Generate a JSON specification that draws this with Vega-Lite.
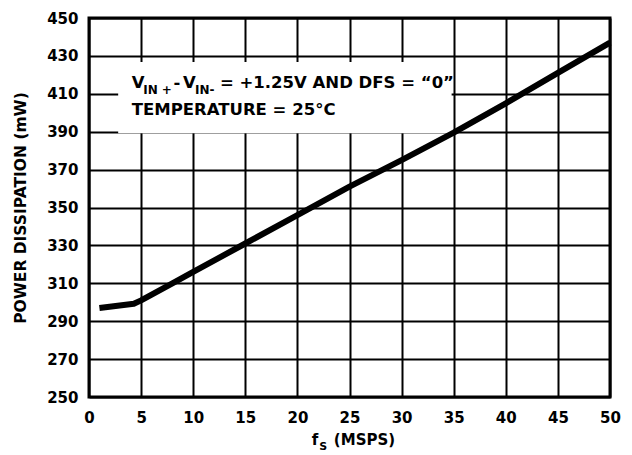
{
  "$schema": "https://vega.github.io/schema/vega-lite/v6.json",
  "width": 521,
  "height": 379,
  "autosize": {"type": "none"},
  "padding": {"left": 89, "top": 18, "right": 22, "bottom": 58},
  "background": "white",
  "config": {
    "view": {"stroke": "black", "strokeWidth": 3},
    "font": "DejaVu Sans",
    "axis": {
      "labelFont": "DejaVu Sans",
      "labelFontWeight": "bold",
      "labelFontSize": 15,
      "labelColor": "black",
      "labelOverlap": false,
      "titleFont": "DejaVu Sans",
      "titleFontWeight": "bold",
      "titleColor": "black",
      "grid": true,
      "gridColor": "black",
      "gridWidth": 2,
      "gridOpacity": 1,
      "ticks": false,
      "domain": false
    }
  },
  "layer": [
    {
      "data": {"values": [{}]},
      "layer": [
        {
          "mark": {"type": "rect", "fill": "white", "stroke": null},
          "encoding": {
            "x": {
              "datum": 2.8, "type": "quantitative",
              "scale": {"domain": [0, 50], "nice": false, "zero": false},
              "axis": {"values": [0, 5, 10, 15, 20, 25, 30, 35, 40, 45, 50], "tickCount": 11, "labelPadding": 13, "labelBaseline": "top", "title": null, "labelFlush": false, "labelOverlap": false}
            },
            "x2": {"datum": 34.8},
            "y": {
              "datum": 389.2, "type": "quantitative",
              "scale": {"domain": [250, 450], "nice": false, "zero": false},
              "axis": {
                "values": [250, 270, 290, 310, 330, 350, 370, 390, 410, 430, 450],
                "tickCount": 11,
                "labelPadding": 11,
                "labelBaseline": "middle",
                "labelFlush": false,
                "labelOverlap": false,
                "title": "POWER DISSIPATION (mW)",
                "titleFontSize": 15.5,
                "titleAngle": -90,
                "titleX": -64,
                "titleY": 189.5,
                "titleAlign": "center",
                "titleBaseline": "alphabetic"
              }
            },
            "y2": {"datum": 426.8}
          }
        },
        {
          "mark": {"type": "text", "text": "V", "font": "DejaVu Sans", "fontWeight": "bold", "fontSize": 16.5, "align": "left", "baseline": "alphabetic", "color": "black"},
          "encoding": {"x": {"datum": 4.1}, "y": {"datum": 412.9}}
        },
        {
          "mark": {"type": "text", "text": "IN +", "font": "DejaVu Sans", "fontWeight": "bold", "fontSize": 12, "align": "left", "baseline": "alphabetic", "color": "black"},
          "encoding": {"x": {"datum": 5.2}, "y": {"datum": 409.7}}
        },
        {
          "mark": {"type": "text", "text": "-", "font": "DejaVu Sans", "fontWeight": "bold", "fontSize": 16.5, "align": "left", "baseline": "alphabetic", "color": "black"},
          "encoding": {"x": {"datum": 8.1}, "y": {"datum": 412.9}}
        },
        {
          "mark": {"type": "text", "text": "V", "font": "DejaVu Sans", "fontWeight": "bold", "fontSize": 16.5, "align": "left", "baseline": "alphabetic", "color": "black"},
          "encoding": {"x": {"datum": 9.02}, "y": {"datum": 412.9}}
        },
        {
          "mark": {"type": "text", "text": "IN-", "font": "DejaVu Sans", "fontWeight": "bold", "fontSize": 12, "align": "left", "baseline": "alphabetic", "color": "black"},
          "encoding": {"x": {"datum": 10.17}, "y": {"datum": 409.7}}
        },
        {
          "mark": {"type": "text", "text": "= +1.25V AND DFS = “0”", "font": "DejaVu Sans", "fontWeight": "bold", "fontSize": 16.5, "align": "left", "baseline": "alphabetic", "color": "black"},
          "encoding": {"x": {"datum": 12.57}, "y": {"datum": 412.9}}
        },
        {
          "mark": {"type": "text", "text": "TEMPERATURE = 25°C", "font": "DejaVu Sans", "fontWeight": "bold", "fontSize": 16.5, "align": "left", "baseline": "alphabetic", "color": "black"},
          "encoding": {"x": {"datum": 4.1}, "y": {"datum": 398.8}}
        },
        {
          "mark": {"type": "text", "text": "f", "font": "DejaVu Sans", "fontWeight": "bold", "fontSize": 15, "align": "left", "baseline": "alphabetic", "color": "black"},
          "encoding": {"x": {"datum": 21.37}, "y": {"datum": 224.7}}
        },
        {
          "mark": {"type": "text", "text": "S", "font": "DejaVu Sans", "fontWeight": "bold", "fontSize": 11, "align": "left", "baseline": "alphabetic", "color": "black"},
          "encoding": {"x": {"datum": 22.1}, "y": {"datum": 222.0}}
        },
        {
          "mark": {"type": "text", "text": "(MSPS)", "font": "DejaVu Sans", "fontWeight": "bold", "fontSize": 15, "align": "left", "baseline": "alphabetic", "color": "black"},
          "encoding": {"x": {"datum": 23.5}, "y": {"datum": 224.7}}
        }
      ]
    },
    {
      "data": {"values": [
        {"fs": 1, "pd": 297},
        {"fs": 4.3, "pd": 299.2},
        {"fs": 5, "pd": 301},
        {"fs": 8, "pd": 310},
        {"fs": 10, "pd": 316},
        {"fs": 15, "pd": 331},
        {"fs": 20, "pd": 346},
        {"fs": 25, "pd": 361},
        {"fs": 30, "pd": 375},
        {"fs": 35, "pd": 389.5},
        {"fs": 40, "pd": 405},
        {"fs": 45, "pd": 421},
        {"fs": 50, "pd": 437}
      ]},
      "mark": {"type": "line", "color": "black", "strokeWidth": 6, "strokeCap": "butt", "strokeJoin": "round"},
      "encoding": {
        "x": {
          "field": "fs", "type": "quantitative",
          "scale": {"domain": [0, 50], "nice": false, "zero": false},
          "axis": {"values": [0, 5, 10, 15, 20, 25, 30, 35, 40, 45, 50], "tickCount": 11, "labelPadding": 13, "labelBaseline": "top", "title": null, "labelFlush": false, "labelOverlap": false}
        },
        "y": {
          "field": "pd", "type": "quantitative",
          "scale": {"domain": [250, 450], "nice": false, "zero": false},
          "axis": {
            "values": [250, 270, 290, 310, 330, 350, 370, 390, 410, 430, 450],
            "tickCount": 11,
            "labelPadding": 11,
            "labelBaseline": "middle",
            "labelFlush": false,
            "labelOverlap": false,
            "title": "POWER DISSIPATION (mW)",
            "titleFontSize": 15.5,
            "titleAngle": -90,
            "titleX": -64,
            "titleY": 189.5,
            "titleAlign": "center",
            "titleBaseline": "alphabetic"
          }
        }
      }
    }
  ]
}
